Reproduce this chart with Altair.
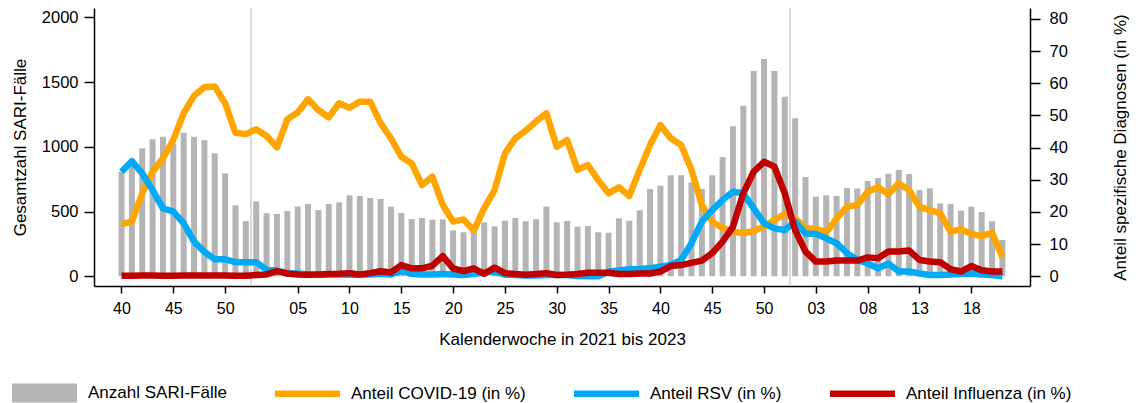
import altair as alt
import pandas as pd

# calendar weeks 2021/40 .. 2023/21
years = [2021] * 13 + [2022] * 52 + [2023] * 21
weeks = list(range(40, 53)) + list(range(1, 53)) + list(range(1, 22))

sari = [808, 890, 988, 1058, 1078, 1022, 1109, 1078, 1050, 950, 795, 548, 427,
        578, 488, 482, 504, 538, 558, 512, 558, 571, 625, 620, 605, 597, 538,
        489, 442, 450, 437, 440, 355, 340, 400, 417, 386, 429, 450, 425, 440,
        538, 417, 427, 383, 388, 340, 337, 448, 429, 509, 674, 700, 780, 780,
        726, 674, 780, 921, 1158, 1317, 1585, 1678, 1585, 1387,
        1220, 767, 615, 625, 620, 682, 677, 736, 759, 792, 821, 790, 666, 679,
        564, 558, 507, 538, 497, 425, 280]

covid = [16.2, 17.0, 25.8, 32.5, 36.7, 42.4, 50.7, 56.1, 58.8, 59.0, 53.8, 44.6, 44.2,
         45.7, 43.6, 40.1, 48.8, 50.9, 55.0, 51.7, 49.4, 53.8, 52.4, 54.3, 54.3, 47.6,
         42.9, 37.2, 35.1, 28.4, 31.0, 22.2, 17.0, 17.7, 14.2, 21.2, 26.8, 38.2, 42.9,
         45.3, 48.1, 50.7, 40.3, 42.4, 33.1, 34.6, 29.9, 25.8, 27.7, 25.0, 33.1, 40.8,
         47.0, 42.9, 40.8, 33.1, 22.2, 17.0, 15.0, 13.9, 13.4, 14.1, 15.5, 17.5, 19.4,
         18.0, 14.9, 14.9, 13.6, 18.0, 21.6, 22.2, 26.3, 27.7, 25.6, 28.9, 26.8, 21.6,
         20.6, 19.6, 13.9, 14.6, 13.2, 12.5, 13.6, 5.9]

rsv = [32.5, 35.8, 32.0, 26.8, 21.1, 20.1, 16.5, 10.8, 7.6, 5.3, 5.3, 4.4, 4.4,
       4.4, 2.0, 1.8, 0.9, 0.9, 0.6, 0.5, 0.6, 0.6, 0.5, 0.5, 0.6, 0.8, 0.6,
       1.6, 0.8, 0.6, 0.6, 0.7, 0.6, 0.4, 0.8, 1.2, 1.4, 0.5, 0.4, 0.3, 0.3,
       0.4, 0.4, 0.4, 0.1, 0.0, 0.0, 1.5, 1.8, 2.2, 2.3, 2.5, 3.0, 3.5, 5.1,
       10.3, 17.0, 20.6, 23.7, 26.3, 25.8, 21.1, 16.5, 14.9, 14.4,
       17.0, 13.3, 13.2, 11.8, 10.3, 7.2, 5.1, 4.0, 2.5, 4.0, 1.5, 1.5, 0.9,
       0.4, 0.4, 0.6, 0.7, 0.9, 0.6, 0.4, 0.0]

influenza = [0.2, 0.2, 0.3, 0.3, 0.2, 0.2, 0.3, 0.3, 0.3, 0.3, 0.3, 0.2, 0.2,
             0.4, 0.6, 1.6, 0.9, 0.6, 0.5, 0.6, 0.7, 0.8, 1.0, 0.6, 1.0, 1.6, 1.2,
             3.5, 2.5, 2.5, 3.3, 6.3, 2.5, 1.6, 2.5, 0.8, 2.7, 1.0, 0.7, 0.5, 0.7,
             1.0, 0.4, 0.5, 0.7, 1.1, 1.1, 1.1, 0.7, 0.7, 0.9, 0.9, 1.5, 3.2, 3.5,
             4.2, 4.9, 7.2, 10.8, 15.4, 25.8, 32.5, 35.6, 34.1, 25.8,
             14.4, 7.7, 4.6, 4.6, 4.9, 4.9, 4.9, 5.9, 5.6, 7.7, 7.7, 8.0, 5.1,
             4.6, 4.4, 2.2, 1.5, 3.2, 1.9, 1.5, 1.5]

tick_weeks = [(2021, 40), (2021, 45), (2021, 50), (2022, 5), (2022, 10), (2022, 15),
              (2022, 20), (2022, 25), (2022, 30), (2022, 35), (2022, 40), (2022, 45),
              (2022, 50), (2023, 3), (2023, 8), (2023, 13), (2023, 18)]

series_names = ["Anzahl SARI-Fälle", "Anteil COVID-19 (in %)",
                "Anteil RSV (in %)", "Anteil Influenza (in %)"]
series_colors = ["#b4b4b4", "#ffa500", "#00aaf5", "#c00000"]
symbol_paths = ["M-1,-0.29H1V0.29H-1Z", "M-1,-0.1H1V0.1H-1Z",
                "M-1,-0.1H1V0.1H-1Z", "M-1,-0.1H1V0.1H-1Z"]

FONT = "Liberation Sans"

df = pd.DataFrame({"idx": range(len(weeks)), "year": years, "week": weeks,
                   "sari": sari, "covid": covid, "rsv": rsv, "influenza": influenza})
long_df = df.melt(id_vars=["idx"], value_vars=["covid", "rsv", "influenza"],
                  var_name="series", value_name="value")
bounds = pd.DataFrame({"idx": df.loc[df["week"] == 52, "idx"] + 0.5})

pos = {(y, w): i for i, (y, w) in enumerate(zip(years, weeks))}
tick_idx = [pos[t] for t in tick_weeks]
label_expr = "[" + ",".join("'%02d'" % w for w in weeks) + "][datum.value]"

common_axis = dict(grid=False, domainColor="black", domainWidth=1.5, tickColor="black",
                   tickWidth=1.5, labelColor="black", titleColor="black",
                   titleFontSize=17, titleFontWeight="normal")

x_enc = alt.X("idx:Q",
              scale=alt.Scale(domain=[-2.17, 87.18], nice=False, zero=False),
              axis=alt.Axis(values=tick_idx, labelExpr=label_expr,
                            title="Kalenderwoche in 2021 bis 2023",
                            tickSize=7, labelPadding=7, titlePadding=15,
                            labelFontSize=16, labelFlush=False, **common_axis))

y_left = alt.Y("sari:Q", stack=None,
               scale=alt.Scale(domain=[-75, 2072], nice=False, zero=False),
               axis=alt.Axis(values=[0, 500, 1000, 1500, 2000], format="d",
                             title="Gesamtzahl SARI-Fälle", tickSize=10,
                             labelPadding=6, titlePadding=12, labelFontSize=16.5,
                             **common_axis))

y_right = alt.Y("value:Q",
                scale=alt.Scale(domain=[-3.0, 83.4], nice=False, zero=False),
                axis=alt.Axis(orient="right", values=list(range(0, 81, 10)),
                              title="Anteil spezifische Diagnosen (in %)",
                              titleAngle=270, titleBaseline="top",
                              tickSize=10, labelPadding=9, titlePadding=45,
                              labelFontSize=16.5, **common_axis))

bars = alt.Chart(df).mark_bar(size=6, color=series_colors[0]).encode(x=x_enc, y=y_left)

year_lines = alt.Chart(bounds).mark_rule(color="#d9d9d9", strokeWidth=2).encode(x=x_enc)


def share_line(key, color):
    return alt.Chart(long_df).transform_filter(alt.datum.series == key).mark_line(
        color=color, strokeWidth=6.5, strokeJoin="round", strokeCap="butt"
    ).encode(x=x_enc, y=y_right)


lines = alt.layer(share_line("covid", series_colors[1]),
                  share_line("rsv", series_colors[2]),
                  share_line("influenza", series_colors[3]))

legend = alt.Legend(title=None, orient="none", legendX=-82, legendY=352.5,
                    direction="horizontal", symbolSize=4225, symbolStrokeWidth=0,
                    symbolOpacity=1, labelFontSize=17, labelOffset=11,
                    columnPadding=48, labelColor="black", labelLimit=400)

legend_layer = alt.Chart(pd.DataFrame({"series": series_names})).transform_filter(
    "false").mark_point(filled=True, opacity=1).encode(
    color=alt.Color("series:N", scale=alt.Scale(domain=series_names, range=series_colors),
                    legend=legend),
    shape=alt.Shape("series:N", scale=alt.Scale(domain=series_names, range=symbol_paths),
                    legend=legend))

chart = alt.layer(bars, year_lines, lines, legend_layer).resolve_scale(
    y="independent"
).properties(
    width=936, height=278,
    autosize=alt.AutoSizeParams(type="none"),
    padding={"left": 86, "top": 0, "right": 100, "bottom": 120},
).configure_view(stroke=None).configure_axis(
    labelFont=FONT, titleFont=FONT
).configure_legend(labelFont=FONT)

chart.save("out.html", embed_options={"renderer": "svg", "actions": False})
